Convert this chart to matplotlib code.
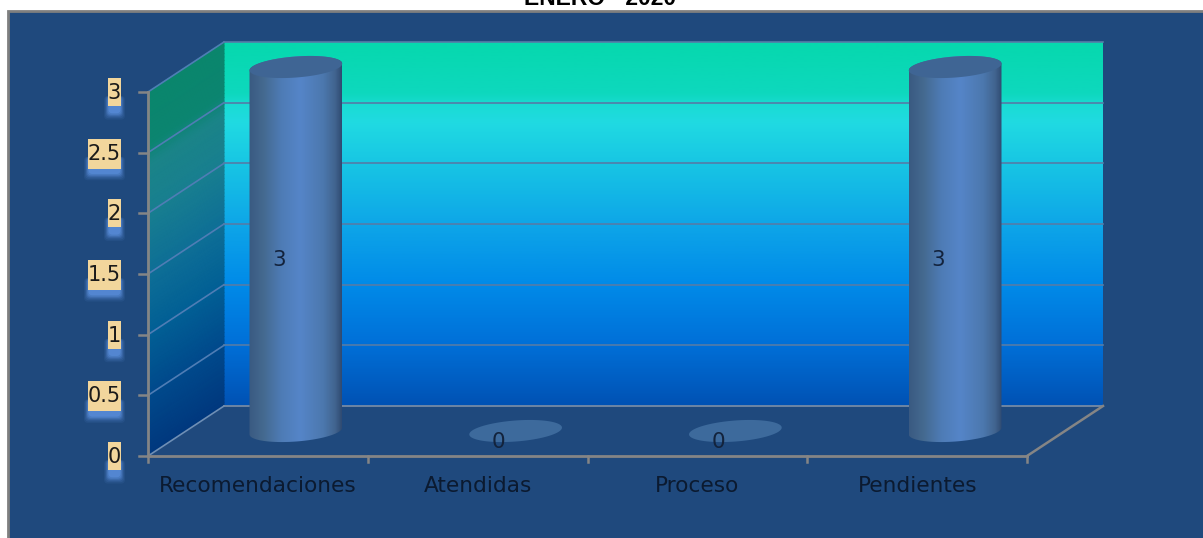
import matplotlib
matplotlib.use("Agg")
import matplotlib.pyplot as plt
import numpy as np
from matplotlib.colors import LinearSegmentedColormap
from matplotlib.patches import FancyBboxPatch, Polygon, Rectangle
from matplotlib.transforms import Affine2D

categories = ["Recomendaciones", "Atendidas", "Proceso", "Pendientes"]
values = [3, 0, 0, 3]
yticks = [0, 0.5, 1, 1.5, 2, 2.5, 3]
ytick_labels = ["0", "0.5", "1", "1.5", "2", "2.5", "3"]
title = "ENERO - 2020"

W, H = 1203, 538
# front plane of the fake 3d box, in pixels
x0, x1 = 148, 1027
y0, y3 = 456, 92
sx = (x1 - x0) / len(categories)
sy = (y0 - y3) / max(yticks)
depth_x, depth_y = 76, 50

BG = "#1f497d"
GREY = "#858585"

fig = plt.figure(figsize=(W / 100, H / 100), dpi=100, facecolor="white")
ax = fig.add_axes([0, 0, 1, 1])
ax.set_axis_off()
xlim = (-x0 / sx, (W - x0) / sx)
ylim = ((y0 - H) / sy, y0 / sy)

# pixel space (origin top left) for the decoration around the plot
px = Affine2D().scale(1, -1).translate(0, H)

ax.add_patch(Rectangle((8, 11), W + 20, H + 20, transform=px, fc=BG, ec="#7f7f7f", lw=2, zorder=0))
ax.text(600, 5, title, transform=px, ha="center", va="baseline", fontsize=16.5,
        fontweight="bold", family="Liberation Sans", color="black", clip_on=False)

# back wall
wall_cmap = LinearSegmentedColormap.from_list("wall", [
    (0.0, "#0052b4"), (0.17, "#0070d8"), (0.33, "#008ae8"), (0.5, "#0ea6e8"),
    (0.67, "#18c6e4"), (0.78, "#20dae2"), (0.83, "#1adcd4"), (0.86, "#0ed8be"), (1.0, "#06d8ae"),
])
side_cmap = LinearSegmentedColormap.from_list("side", [
    (0.0, "#00387e"), (0.17, "#004a8c"), (0.33, "#015f95"), (0.5, "#0e6f96"),
    (0.67, "#187f90"), (0.8, "#1a8488"), (0.86, "#0b8570"), (1.0, "#0a866c"),
])
t = np.linspace(0, 1, 200)
dx = depth_x / sx
dy = depth_y / sy
top = max(yticks)
n = len(categories)
ax.imshow(t[:, None], origin="lower", cmap=wall_cmap, aspect="auto", interpolation="bilinear",
          extent=(dx, n + dx, dy, top + dy), zorder=1)

# side wall, skewed gradient
V = np.linspace(0, top, 100)
D = np.array([0, 1.0])
X = np.outer(np.ones_like(V), D) * dx
Y = V[:, None] + D[None, :] * dy
ax.pcolormesh(X, Y, np.outer(V / top, np.ones(2)), cmap=side_cmap, shading="gouraud", zorder=1)

# grid on walls
for v in yticks[1:]:
    ax.plot([0, dx], [v, v + dy], color="#4f7db5", lw=1.2, zorder=2)
    ax.plot([dx, n + dx], [v + dy, v + dy], color="#557ca8", lw=1.2, zorder=2)
ax.plot([dx, n + dx], [dy, dy], color="#7d8fa6", lw=1.2, zorder=2)

# floor and axis lines
ax.plot([0, dx], [0, dy], color="#6f8fb5", lw=1.2, zorder=2)
ax.plot([n, n + dx], [0, dy], color=GREY, lw=1.8, zorder=2)
ax.plot([0, n], [0, 0], color=GREY, lw=2, zorder=3)
ax.plot([0, 0], [0, top], color=GREY, lw=2, zorder=3)
for i in range(n + 1):
    ax.plot([i, i], [0, -6 / sy], color=GREY, lw=1.8, zorder=3)
for v in yticks:
    ax.plot([0, -9 / sx], [v, v], color=GREY, lw=1.8, zorder=3)

# cylinders
cyl_cmap = LinearSegmentedColormap.from_list("cyl", [
    (0.0, "#3a5a82"), (0.15, "#44698f"), (0.35, "#4e7cb6"), (0.55, "#5585c8"),
    (0.8, "#4c78ae"), (0.93, "#41648f"), (1.0, "#304b72"),
])
ra, rb, tilt = 46.5, 10.5, np.radians(4.4)


def ellipse(cx, cy, a0, a1):
    # cx in category units, cy in value units, outline follows the pixel shape
    a = np.linspace(a0, a1, 80)
    ex = ra * np.cos(a) * np.cos(tilt) - rb * np.sin(a) * np.sin(tilt)
    ey = ra * np.cos(a) * np.sin(tilt) + rb * np.sin(a) * np.cos(tilt)
    return np.column_stack([cx + ex / sx, cy + ey / sy])


g = np.linspace(0, 1, 200)[None, :]
for i, v in enumerate(values):
    cx = i + 0.5 + 0.5 * dx
    base = 0.5 * dy
    if v > 0:
        outline = np.vstack([ellipse(cx, v + base, 0, np.pi), ellipse(cx, base, np.pi, 2 * np.pi)])
        im = ax.imshow(g, cmap=cyl_cmap, aspect="auto", interpolation="bilinear",
                       extent=(cx - ra / sx, cx + ra / sx, base - 15 / sy, v + base + 15 / sy), zorder=4)
        clip = Polygon(outline, closed=True, transform=ax.transData, fc="none", ec="none")
        ax.add_patch(clip)
        im.set_clip_path(clip)
    cap = "#3f6594" if v > 0 else "#3d6a9c"
    ax.add_patch(Polygon(ellipse(cx, v + base, 0, 2 * np.pi), closed=True, fc=cap, ec="none", zorder=5))
    ax.text(i + 0.5 + 21 / sx, v / 2 + 14 / sy, str(v), ha="center", va="center",
            fontsize=15.5, color="#13233c", zorder=6)

# category labels
for i, c in enumerate(categories):
    ax.text(i + 0.5, -30 / sy, c, ha="center", va="center", fontsize=15.6, color="#0b1a30", zorder=6)

# value labels: tan boxes with a soft blue glow underneath
for v, lab in zip(yticks, ytick_labels):
    w = 13 if len(lab) == 1 else 33
    yc = y0 - v * sy
    for grow, alpha in [(8, 0.1), (6, 0.14), (4, 0.2), (2.5, 0.28), (1, 0.4), (-1, 0.6)]:
        ax.add_patch(FancyBboxPatch((121 - w - grow * 0.5, yc + 4), w + grow, 18 + grow * 0.7,
                                    boxstyle="round,pad=0,rounding_size=4", transform=px,
                                    fc="#5a8fdc", ec="none", alpha=alpha, zorder=5))
    ax.add_patch(Rectangle((121 - w, yc - 14), w, 28 if len(lab) == 1 else 30, transform=px,
                           fc="#f2d69c", ec="none", zorder=6))
    ax.text(121, yc + 1, lab, transform=px, ha="right", va="center", fontsize=15, color="#1a1a1a", zorder=7)

ax.set_xlim(xlim)
ax.set_ylim(ylim)
fig.savefig("out.png", dpi=100, facecolor="white")
